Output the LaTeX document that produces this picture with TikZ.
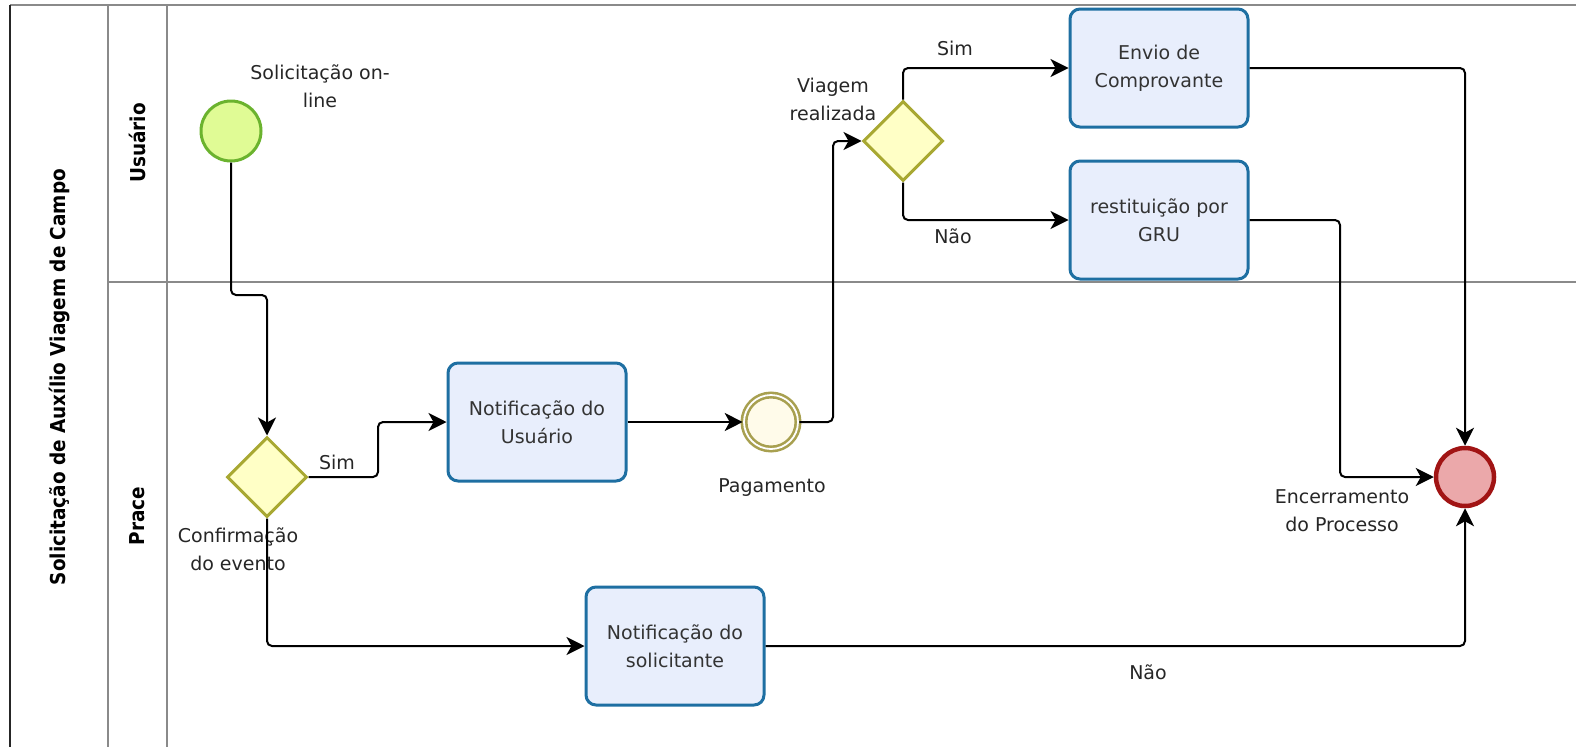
\documentclass[tikz,border=0pt]{standalone}
\usepackage{fontspec}
\setmainfont{DejaVu Sans}
\newfontfamily\lanefont{DejaVu Sans Condensed}
\usetikzlibrary{arrows.meta,shapes.geometric}

\definecolor{startfill}{HTML}{E0FB95}
\definecolor{startline}{HTML}{6BB32E}
\definecolor{gwfill}{HTML}{FFFFC6}
\definecolor{gwline}{HTML}{A8A832}
\definecolor{taskfill}{HTML}{E8EEFC}
\definecolor{taskline}{HTML}{1E6FA2}
\definecolor{midfill}{HTML}{FFFBEA}
\definecolor{midline}{HTML}{A8A050}
\definecolor{endfill}{HTML}{EBA8AA}
\definecolor{endline}{HTML}{A11414}
\definecolor{laneline}{HTML}{8A8A8A}

\tikzset{
  lane/.style={draw=laneline, line width=2pt},
  lanetitle/.style={rotate=90, font=\lanefont\bfseries\fontsize{20.5}{24}\selectfont},
  task/.style={draw=taskline, fill=taskfill, line width=3pt, rounded corners=10pt,
    minimum width=178pt, minimum height=118pt, align=center, text=black!80,
    font=\fontsize{19}{28}\selectfont},
  gateway/.style={diamond, draw=gwline, fill=gwfill, line width=3pt,
    minimum size=80pt, inner sep=0pt},
  startev/.style={circle, draw=startline, fill=startfill, line width=3pt,
    minimum size=60pt, inner sep=0pt},
  midev/.style={circle, draw=midline, fill=midfill, line width=2.6pt,
    double=white, double distance=1.8pt, minimum size=54pt, inner sep=0pt},
  endev/.style={circle, draw=endline, fill=endfill, line width=4.5pt,
    minimum size=58pt, inner sep=0pt},
  flow/.style={-{Stealth[length=18pt,width=18pt,inset=5pt]}, line width=2pt,
    rounded corners=5pt},
  lbl/.style={align=center, text=black!85, font=\fontsize{19}{28}\selectfont}
}

\begin{document}
\begin{tikzpicture}[x=1pt, y=-1pt]
  \useasboundingbox (0,0) rectangle (1576,747);

  % pool and lanes
  \draw[lane] (10,5) -- (1576,5);
  \draw[lane] (108,5) -- (108,747);
  \draw[lane] (167,5) -- (167,747);
  \draw[lane] (108,282) -- (1576,282);
  \draw[line width=2pt, black!85] (10,5) -- (10,747);

  \node[lanetitle] (pool) at (60,377) {Solicitação de Auxílio Viagem de Campo};
  \node[lanetitle] (usuario) at (137,143) {Usuário};
  \node[lanetitle] (prace) at (137,516) {Prace};

  % events and gateways
  \node[startev] (start) at (231,131) {};
  \node[gateway] (gw1) at (267,477) {};
  \node[midev] (pag) at (771,422) {};
  \node[gateway] (gw2) at (903,141) {};
  \node[endev] (end) at (1465,477) {};

  % tasks
  \node[task] (notusr) at (537,422) {Notificação do\\Usuário};
  \node[task] (notsol) at (675,646) {Notificação do\\solicitante};
  \node[task] (envio) at (1159,68) {Envio de\\Comprovante};
  \node[task] (restit) at (1159,220) {restituição por\\GRU};

  % labels
  \node[lbl] (lstart) at (320,86) {Solicitação on-\\line};
  \node[lbl] (lgw1) at (238,549) {Confirmação\\do evento};
  \node[lbl] (lpag) at (772,488) {Pagamento};
  \node[lbl] (lgw2) at (833,99) {Viagem\\realizada};
  \node[lbl] (lend) at (1342,511) {Encerramento\\do Processo};
  \node[lbl] (sim1) at (337,462) {Sim};
  \node[lbl] (sim2) at (955,48) {Sim};
  \node[lbl] (nao1) at (953,236) {Não};
  \node[lbl] (nao2) at (1148,672) {Não};

  % bend points
  \coordinate (b1) at (231,295);
  \coordinate (b2) at (378,477);
  \coordinate (b3) at (833,422);
  \coordinate (b4) at (1340,220);

  % sequence flows
  \draw[flow] (start.south) -- (b1) -| (gw1.north);
  \draw[flow] (gw1.east) -- (b2) |- (notusr.west);
  \draw[flow] (notusr.east) -- (pag.west);
  \draw[flow] (pag.east) -- (b3) |- (gw2.west);
  \draw[flow] (gw2.north) |- (envio.west);
  \draw[flow] (gw2.south) |- (restit.west);
  \draw[flow] (envio.east) -| (end.north);
  \draw[flow] (restit.east) -- (b4) |- (end.west);
  \draw[flow] (gw1.south) |- (notsol.west);
  \draw[flow] (notsol.east) -| (end.south);
\end{tikzpicture}
\end{document}
